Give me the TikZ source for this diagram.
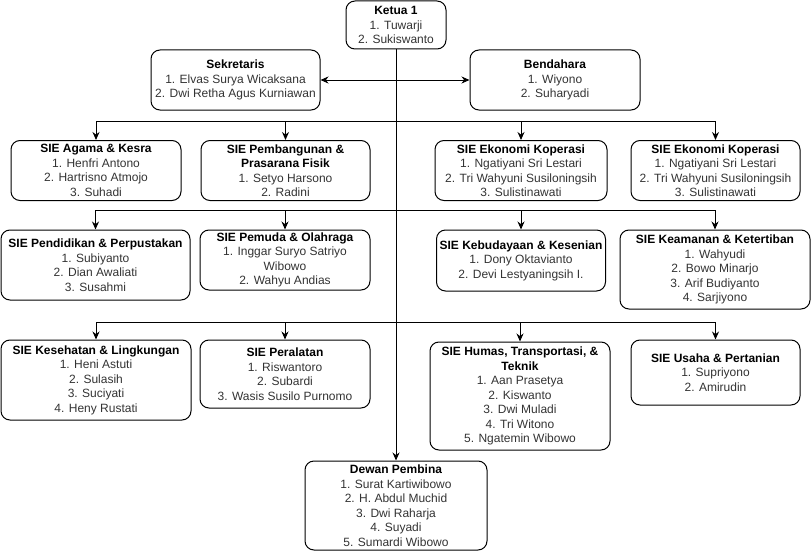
\documentclass[tikz,border=0pt]{standalone}
\usepackage{fontspec}
\setmainfont{Liberation Sans}
\usetikzlibrary{arrows.meta}

\tikzset{
    unitbox/.style={draw, rounded corners=9pt, line width=1pt, align=center, inner sep=2pt,
        font=\fontsize{12}{14.5}\selectfont, text=black!80},
    conn/.style={line width=1pt, -{Stealth[length=8pt, width=7pt]}}
}
\newcommand{\jabatan}[1]{\textbf{\color{black}#1}}

\begin{document}
\begin{tikzpicture}[x=1pt, y=-1pt]
    \useasboundingbox (0,0) rectangle (811,551);

    % Pengurus inti
    \node[unitbox, minimum width=100pt, minimum height=48pt] (ketua) at (396,25)
        {\jabatan{Ketua 1}\\1. Tuwarji\\2. Sukiswanto};
    \node[unitbox, minimum width=169pt, minimum height=60pt] (sekretaris) at (235.5,80)
        {\jabatan{Sekretaris}\\1. Elvas Surya Wicaksana\\2. Dwi Retha Agus Kurniawan};
    \node[unitbox, minimum width=170pt, minimum height=60pt] (bendahara) at (555,80)
        {\jabatan{Bendahara}\\1. Wiyono\\2. Suharyadi};

    % Baris 1
    \node[unitbox, minimum width=170pt, minimum height=60pt] (agama) at (96,170.5)
        {\jabatan{SIE Agama \& Kesra}\\1. Henfri Antono\\2. Hartrisno Atmojo\\3. Suhadi};
    \node[unitbox, minimum width=169pt, minimum height=60pt] (pembangunan) at (285.5,170.5)
        {\jabatan{SIE Pembangunan \&}\\\jabatan{Prasarana Fisik}\\1. Setyo Harsono\\2. Radini};
    \node[unitbox, minimum width=172pt, minimum height=60pt] (ekonomia) at (521,170.5)
        {\jabatan{SIE Ekonomi Koperasi}\\1. Ngatiyani Sri Lestari\\2. Tri Wahyuni Susiloningsih\\3. Sulistinawati};
    \node[unitbox, minimum width=169pt, minimum height=60pt] (ekonomib) at (715.5,170.5)
        {\jabatan{SIE Ekonomi Koperasi}\\1. Ngatiyani Sri Lestari\\2. Tri Wahyuni Susiloningsih\\3. Sulistinawati};

    % Baris 2
    \node[unitbox, minimum width=189pt, minimum height=70pt] (pendidikan) at (95.5,265)
        {\jabatan{SIE Pendidikan \& Perpustakan}\\1. Subiyanto\\2. Dian Awaliati\\3. Susahmi};
    \node[unitbox, minimum width=170pt, minimum height=60pt] (pemuda) at (285,260)
        {\jabatan{SIE Pemuda \& Olahraga}\\1. Inggar Suryo Satriyo\\Wibowo\\2. Wahyu Andias};
    \node[unitbox, minimum width=169pt, minimum height=61pt] (kebudayaan) at (521,260.5)
        {\jabatan{SIE Kebudayaan \& Kesenian}\\1. Dony Oktavianto\\2. Devi Lestyaningsih I.};
    \node[unitbox, minimum width=190pt, minimum height=79pt] (keamanan) at (715,269.5)
        {\jabatan{SIE Keamanan \& Ketertiban}\\1. Wahyudi\\2. Bowo Minarjo\\3. Arif Budiyanto\\4. Sarjiyono};

    % Baris 3
    \node[unitbox, minimum width=190pt, minimum height=80pt] (kesehatan) at (96,380)
        {\jabatan{SIE Kesehatan \& Lingkungan}\\1. Heni Astuti\\2. Sulasih\\3. Suciyati\\4. Heny Rustati};
    \node[unitbox, minimum width=170pt, minimum height=68pt] (peralatan) at (285,374)
        {\jabatan{SIE Peralatan}\\1. Riswantoro\\2. Subardi\\3. Wasis Susilo Purnomo};
    \node[unitbox, minimum width=180pt, minimum height=108pt] (humas) at (520,396)
        {\jabatan{SIE Humas, Transportasi, \&}\\\jabatan{Teknik}\\1. Aan Prasetya\\2. Kiswanto\\3. Dwi Muladi\\4. Tri Witono\\5. Ngatemin Wibowo};
    \node[unitbox, minimum width=169pt, minimum height=65pt] (usaha) at (715.5,372.5)
        {\jabatan{SIE Usaha \& Pertanian}\\1. Supriyono\\2. Amirudin};

    % Dewan pembina
    \node[unitbox, minimum width=182pt, minimum height=89pt] (dewan) at (396,505.5)
        {\jabatan{Dewan Pembina}\\1. Surat Kartiwibowo\\2. H. Abdul Muchid\\3. Dwi Raharja\\4. Suyadi\\5. Sumardi Wibowo};

    % Garis penghubung
    \draw[conn] (ketua) -- (dewan);
    \draw[conn, {Stealth[length=8pt, width=7pt]}-{Stealth[length=8pt, width=7pt]}] (sekretaris.east) -- (bendahara.west);

    \coordinate (bus1) at (396,121);
    \coordinate (bus2) at (396,210);
    \coordinate (bus3) at (396,322);
    \foreach \sie in {agama, pembangunan, ekonomia, ekonomib}
        \draw[conn] (bus1) -| (\sie);
    \foreach \sie in {pendidikan, pemuda, kebudayaan, keamanan}
        \draw[conn] (bus2) -| (\sie);
    \foreach \sie in {kesehatan, peralatan, humas, usaha}
        \draw[conn] (bus3) -| (\sie);
\end{tikzpicture}
\end{document}
